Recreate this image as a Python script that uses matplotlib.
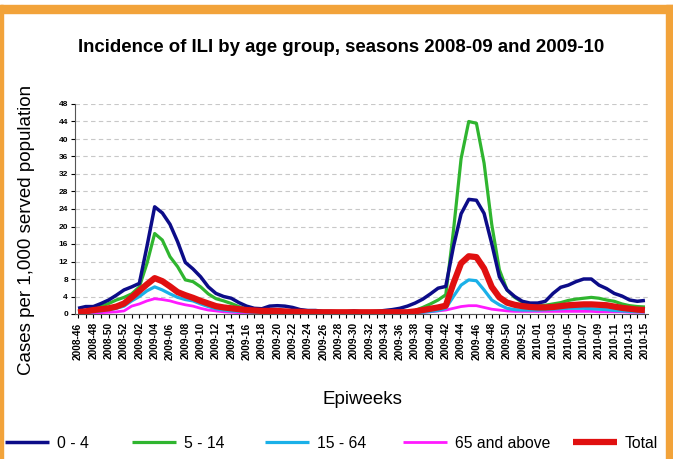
import matplotlib
matplotlib.use("Agg")
import matplotlib.pyplot as plt
from matplotlib.patches import Rectangle

plt.rcParams['font.family'] = ['Liberation Sans', 'DejaVu Sans']

# epiweeks 2008-46 .. 2010-15 (2009 has 53 weeks)
weeks = ([f"2008-{w:02d}" for w in range(46, 53)]
         + [f"2009-{w:02d}" for w in range(1, 54)]
         + [f"2010-{w:02d}" for w in range(1, 16)])

age_0_4 = [1.3, 1.7, 1.7, 2.4, 3.2, 4.3, 5.5, 6.2, 7.0, 15.5,
           24.5, 23.1, 20.5, 16.5, 11.8, 10.3, 8.5, 6.2, 4.7, 4.0,
           3.6, 2.6, 1.8, 1.3, 1.2, 1.8, 1.9, 1.8, 1.5, 1.0,
           0.8, 0.8, 0.6, 0.6, 0.5, 0.5, 0.7, 0.5, 0.5, 0.6,
           0.8, 1.0, 1.3, 1.8, 2.5, 3.4, 4.6, 5.9, 6.3, 15.4,
           22.9, 26.2, 26.0, 23.0, 16.1, 8.5, 5.5, 4.0, 2.9, 2.5,
           2.5, 2.9, 4.7, 6.1, 6.6, 7.4, 8.0, 8.0, 6.6, 5.8,
           4.7, 4.1, 3.2, 2.9, 3.1]
age_5_14 = [0.5, 0.8, 1.2, 1.8, 2.4, 3.2, 3.8, 4.6, 6.2, 11.6,
            18.4, 16.9, 13.1, 10.8, 7.8, 7.4, 6.2, 4.6, 3.5, 3.0,
            2.4, 1.7, 1.1, 0.9, 0.8, 0.7, 0.7, 0.6, 0.5, 0.4,
            0.3, 0.3, 0.3, 0.3, 0.3, 0.3, 0.3, 0.3, 0.3, 0.3,
            0.3, 0.4, 0.5, 0.6, 0.8, 1.5, 2.3, 3.2, 4.4, 19.0,
            35.5, 44.0, 43.6, 34.5, 20.5, 10.1, 5.5, 3.8, 2.7, 2.3,
            2.0, 2.0, 2.3, 2.6, 3.1, 3.4, 3.6, 3.8, 3.6, 3.2,
            2.9, 2.3, 1.9, 1.7, 1.6]
age_15_64 = [0.3, 0.4, 0.5, 0.7, 1.0, 1.3, 1.8, 3.0, 4.0, 5.3,
             6.2, 5.5, 4.6, 3.8, 3.3, 3.0, 2.3, 1.7, 1.2, 0.9,
             0.7, 0.6, 0.5, 0.4, 0.3, 0.3, 0.3, 0.3, 0.3, 0.3,
             0.3, 0.3, 0.3, 0.3, 0.3, 0.3, 0.3, 0.3, 0.3, 0.3,
             0.3, 0.3, 0.3, 0.3, 0.3, 0.4, 0.6, 0.8, 1.3, 4.0,
             6.6, 7.8, 7.6, 5.5, 3.2, 2.1, 1.3, 1.0, 0.9, 0.9,
             0.9, 1.0, 1.1, 1.2, 1.3, 1.3, 1.3, 1.2, 1.1, 1.0,
             0.8, 0.7, 0.6, 0.5, 0.5]
age_65 = [0.2, 0.2, 0.3, 0.3, 0.4, 0.5, 0.7, 1.8, 2.3, 3.0,
          3.5, 3.3, 3.0, 2.5, 2.1, 1.8, 1.3, 0.9, 0.7, 0.5,
          0.4, 0.3, 0.3, 0.3, 0.2, 0.2, 0.2, 0.2, 0.2, 0.2,
          0.2, 0.2, 0.2, 0.2, 0.2, 0.2, 0.2, 0.2, 0.2, 0.2,
          0.2, 0.2, 0.3, 0.3, 0.3, 0.4, 0.5, 0.7, 0.9, 1.3,
          1.7, 1.9, 1.9, 1.5, 1.1, 0.9, 0.7, 0.6, 0.6, 0.6,
          0.6, 0.6, 0.6, 0.6, 0.6, 0.6, 0.6, 0.6, 0.5, 0.5,
          0.5, 0.5, 0.4, 0.4, 0.4]
total = [0.4, 0.6, 0.9, 1.1, 1.3, 1.7, 2.4, 3.8, 5.3, 6.8,
         8.2, 7.5, 6.3, 5.0, 4.3, 3.7, 3.0, 2.4, 1.8, 1.5,
         1.3, 1.1, 0.9, 0.8, 0.7, 0.7, 0.7, 0.6, 0.5, 0.5,
         0.4, 0.4, 0.4, 0.4, 0.4, 0.4, 0.4, 0.4, 0.4, 0.4,
         0.4, 0.4, 0.4, 0.4, 0.6, 0.9, 1.2, 1.5, 1.9, 7.0,
         11.6, 13.2, 13.0, 10.4, 6.2, 3.8, 2.6, 2.1, 1.8, 1.6,
         1.5, 1.5, 1.6, 1.8, 2.0, 2.1, 2.2, 2.2, 2.1, 2.0,
         1.7, 1.4, 1.2, 1.0, 0.9]

x = list(range(len(weeks)))

fig = plt.figure(figsize=(6.73, 4.59), dpi=100)
ax = fig.add_axes([75 / 673, 1 - 314 / 459, 573 / 673, 210 / 459])

kw = dict(solid_joinstyle='round', solid_capstyle='butt')
l65, = ax.plot(x, age_65, color='#ff1aff', lw=2.0, label='65 and above', zorder=3, **kw)
l15, = ax.plot(x, age_15_64, color='#1ab0e8', lw=2.3, label='15 - 64', zorder=3, **kw)
l5, = ax.plot(x, age_5_14, color='#2fb52f', lw=2.3, label='5 - 14', zorder=3, **kw)
l0, = ax.plot(x, age_0_4, color='#0c0c88', lw=2.5, label='0 - 4', zorder=4, **kw)
lt, = ax.plot(x, total, color='#e01010', lw=4.5, label='Total', zorder=5, **kw)

ax.set_xlim(-0.4, len(weeks) - 0.6)
ax.set_ylim(0, 48)
ax.set_yticks(range(0, 49, 4))
ax.tick_params(axis='y', labelsize=6, length=3, pad=2)
for lab in ax.get_yticklabels():
    lab.set_fontweight('bold')
ax.set_xticks(x)
ax.set_xticklabels([w if i % 2 == 0 else '' for i, w in enumerate(weeks)],
                   rotation=90, fontsize=7.3, fontweight='bold')
ax.tick_params(axis='x', length=3, pad=3)
ax.yaxis.grid(True, ls=(0, (4, 3)), color='#c8c8c8', lw=0.8)
ax.set_axisbelow(True)
for s in ['top', 'right']:
    ax.spines[s].set_visible(False)
for s in ['left', 'bottom']:
    ax.spines[s].set_color('#555555')

fig.text(341 / 673, 1 - 47 / 459, 'Incidence of ILI by age group, seasons 2008-09 and 2009-10',
         ha='center', va='center', fontsize=13.4, fontweight='bold')
fig.text(27 / 673, 1 - 230 / 459, 'Cases per 1,000 served population',
         rotation=90, ha='center', va='center', fontsize=13.5)
fig.text(362 / 673, 1 - 400 / 459, 'Epiweeks', ha='center', va='center', fontsize=13.5)

# legend entries placed one by one, like the original
legend_x = [5, 132, 265, 403, 573]
for h, xpos in zip([l0, l5, l15, l65, lt], legend_x):
    fig.legend([h], [h.get_label()], loc='center left',
               bbox_to_anchor=(xpos / 673, 1 - 443 / 459), frameon=False,
               fontsize=11.3, handlelength=2.8, handletextpad=0.5,
               borderpad=0, borderaxespad=0)

# orange frame
orange = '#f2a33a'
fig.patches.append(Rectangle((0, 1 - 13 / 459), 1, 8 / 459, transform=fig.transFigure,
                             color=orange, zorder=10))
fig.patches.append(Rectangle((0, 0), 3 / 673, 1 - 5 / 459, transform=fig.transFigure,
                             color=orange, zorder=10))
fig.patches.append(Rectangle((666 / 673, 0), 7 / 673, 1 - 5 / 459, transform=fig.transFigure,
                             color=orange, zorder=10))

fig.savefig('out.png', dpi=100)
